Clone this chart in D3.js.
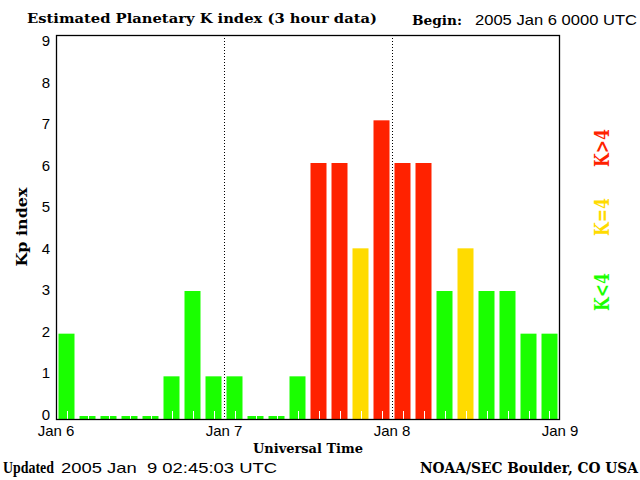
<!DOCTYPE html>
<html>
<head>
<meta charset="utf-8">
<script src="https://cdn.jsdelivr.net/npm/d3@7"></script>
<style>
  body { margin: 0; background: #fff; }
  svg { display: block; }
</style>
</head>
<body>
<svg id="canvas" width="640" height="480"></svg>
<script>
// 3-hour Kp values, Jan 6 00 UT through Jan 8 21 UT
let days = ['Jan 6', 'Jan 7', 'Jan 8', 'Jan 9'];
let kpValues = [2, 0, 0, 0, 0, 1, 3, 1,
                1, 0, 0, 1, 6, 6, 4, 7,
                6, 6, 3, 4, 3, 3, 2, 2];
let yTicks = [0, 1, 2, 3, 4, 5, 6, 7, 8, 9];
let legendItems = ['K<4', 'K=4', 'K>4'];

let green = '#1aff00';
let yellow = '#ffdb00';
let red = '#ff2200';

let serif = '"DejaVu Serif", serif';
let narrowSerif = '"Liberation Serif", serif';
let sans = '"Liberation Sans", Arial, sans-serif';

let canvas = d3.select('#canvas');

let plotLeft = 56, plotRight = 560, plotTop = 35, plotBottom = 419;

let xScale = d3.scaleLinear()
    .domain([0, kpValues.length])
    .range([plotLeft, plotRight]);

let yScale = d3.scaleLinear()
    .domain([0, 9])
    .range([plotBottom, plotTop]);

// the tick labels sit a little inside the frame at both ends
let yLabelScale = d3.scaleLinear()
    .domain([0, 9])
    .range([plotBottom - 4, plotTop + 6]);

let colorFor = (k) => {
    if (k < 4) {
        return green;
    } else if (k === 4) {
        return yellow;
    } else {
        return red;
    }
};

// bars
let barWidth = 16;
canvas.selectAll('rect.bar')
    .data(kpValues)
    .enter()
    .append('rect')
    .attr('class', 'bar')
    .attr('x', (d, i) => xScale(i + 0.5) - barWidth / 2)
    .attr('width', barWidth)
    .attr('y', (d) => yScale(Math.max(d, 0.07)))
    .attr('height', (d) => plotBottom - yScale(Math.max(d, 0.07)))
    .attr('fill', (d) => colorFor(d));

// little white ticks in the middle of each bar
canvas.selectAll('line.tick3h')
    .data(kpValues)
    .enter()
    .append('line')
    .attr('class', 'tick3h')
    .attr('x1', (d, i) => Math.round(xScale(i + 0.5)) + 0.5)
    .attr('x2', (d, i) => Math.round(xScale(i + 0.5)) + 0.5)
    .attr('y1', plotBottom)
    .attr('y2', plotBottom - 8)
    .attr('stroke', '#fff')
    .attr('stroke-width', 1);

// day separators
canvas.selectAll('line.day')
    .data([1, 2])
    .enter()
    .append('line')
    .attr('class', 'day')
    .attr('x1', (d) => Math.round(xScale(d * 8)) + 0.5)
    .attr('x2', (d) => Math.round(xScale(d * 8)) + 0.5)
    .attr('y1', plotTop)
    .attr('y2', plotBottom)
    .attr('stroke', '#000')
    .attr('stroke-width', 1)
    .attr('stroke-dasharray', '1,2');

// frame
canvas.append('rect')
    .attr('x', plotLeft + 0.5)
    .attr('y', plotTop + 0.5)
    .attr('width', plotRight - plotLeft - 1)
    .attr('height', plotBottom - plotTop)
    .attr('fill', 'none')
    .attr('stroke', '#000')
    .attr('stroke-width', 1.3);

// y tick labels
canvas.selectAll('text.ylab')
    .data(yTicks)
    .enter()
    .append('text')
    .attr('class', 'ylab')
    .attr('x', 50)
    .attr('y', (d) => yLabelScale(d) + 5)
    .attr('text-anchor', 'end')
    .attr('font-family', sans)
    .attr('font-size', 15)
    .text((d) => d);

// x tick labels
canvas.selectAll('text.xlab')
    .data(days)
    .enter()
    .append('text')
    .attr('class', 'xlab')
    .attr('x', (d, i) => xScale(i * 8))
    .attr('y', 436)
    .attr('text-anchor', 'middle')
    .attr('font-family', sans)
    .attr('font-size', 15)
    .text((d) => d);

// titles
canvas.append('text')
    .attr('x', 27)
    .attr('y', 23)
    .attr('font-family', serif)
    .attr('font-weight', 'bold')
    .attr('font-size', 13)
    .attr('textLength', 350)
    .attr('lengthAdjust', 'spacingAndGlyphs')
    .text('Estimated Planetary K index (3 hour data)');

canvas.append('text')
    .attr('x', 412)
    .attr('y', 25)
    .attr('font-family', serif)
    .attr('font-weight', 'bold')
    .attr('font-size', 13)
    .attr('textLength', 50)
    .attr('lengthAdjust', 'spacingAndGlyphs')
    .text('Begin:');

canvas.append('text')
    .attr('x', 475)
    .attr('y', 25)
    .attr('font-family', sans)
    .attr('font-size', 15)
    .attr('textLength', 162)
    .attr('lengthAdjust', 'spacingAndGlyphs')
    .text('2005 Jan 6 0000 UTC');

canvas.append('text')
    .attr('x', 308)
    .attr('y', 453)
    .attr('text-anchor', 'middle')
    .attr('font-family', serif)
    .attr('font-weight', 'bold')
    .attr('font-size', 13)
    .attr('textLength', 110)
    .attr('lengthAdjust', 'spacingAndGlyphs')
    .text('Universal Time');

canvas.append('text')
    .attr('transform', 'translate(27,227) rotate(-90)')
    .attr('text-anchor', 'middle')
    .attr('font-family', serif)
    .attr('font-weight', 'bold')
    .attr('font-size', 14)
    .attr('textLength', 79)
    .attr('lengthAdjust', 'spacingAndGlyphs')
    .text('Kp index');

// footer
canvas.append('text')
    .attr('x', 3)
    .attr('y', 473)
    .attr('font-family', narrowSerif)
    .attr('font-weight', 'bold')
    .attr('font-size', 16)
    .attr('textLength', 51)
    .attr('lengthAdjust', 'spacingAndGlyphs')
    .text('Updated');

canvas.append('text')
    .attr('x', 61)
    .attr('y', 473)
    .attr('font-family', sans)
    .attr('font-size', 15)
    .attr('textLength', 216)
    .attr('lengthAdjust', 'spacingAndGlyphs')
    .style('white-space', 'pre')
    .text('2005 Jan  9 02:45:03 UTC');

canvas.append('text')
    .attr('x', 638)
    .attr('y', 473)
    .attr('text-anchor', 'end')
    .attr('font-family', serif)
    .attr('font-weight', 'bold')
    .attr('font-size', 14)
    .attr('textLength', 218)
    .attr('lengthAdjust', 'spacingAndGlyphs')
    .text('NOAA/SEC Boulder, CO USA');

// colour key on the right
let legendY = [292, 217, 148];
let legendColors = [green, yellow, red];
canvas.selectAll('text.key')
    .data(legendItems)
    .enter()
    .append('text')
    .attr('class', 'key')
    .attr('transform', (d, i) => 'translate(609,' + legendY[i] + ') rotate(-90)')
    .attr('text-anchor', 'middle')
    .attr('font-family', serif)
    .attr('font-weight', 'bold')
    .attr('font-size', 21)
    .attr('textLength', 38)
    .attr('lengthAdjust', 'spacingAndGlyphs')
    .attr('fill', (d, i) => legendColors[i])
    .text((d) => d);
</script>
</body>
</html>
